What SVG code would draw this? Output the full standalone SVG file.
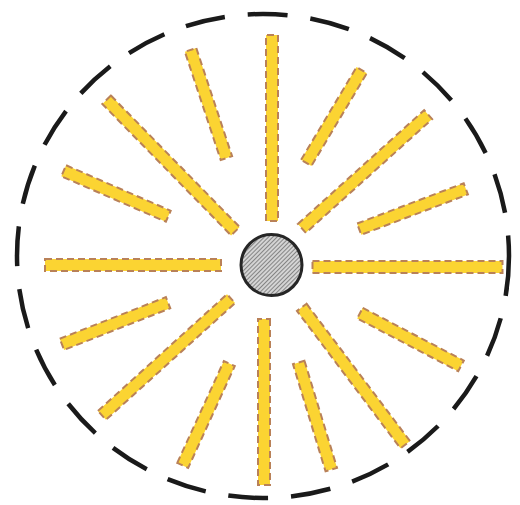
<svg xmlns="http://www.w3.org/2000/svg" width="520" height="505" viewBox="0 0 520 505">
<style>
.ray{fill:#fbd432;stroke:#b98158;stroke-width:2;stroke-dasharray:7 4}
.outer{fill:none;stroke:#1a1a1a;stroke-width:4.5;stroke-dasharray:40 23}
.core{fill:url(#hatch);stroke:#262626;stroke-width:3}
</style>
<defs>
<pattern id="hatch" patternUnits="userSpaceOnUse" width="3" height="3" patternTransform="rotate(45)">
<rect width="3" height="3" fill="#d4d4d4"/>
<line x1="0" y1="0" x2="0" y2="3" stroke="#5a5a5a" stroke-width="1.3"/>
</pattern>
</defs>
<rect width="520" height="505" fill="#ffffff"/>
<g id="boundary"><ellipse class="outer" cx="263" cy="256" rx="246" ry="242"/></g>
<g id="rays">
<rect class="ray" x="-93" y="-6" width="186" height="12" transform="translate(272,128) rotate(90)"/>
<rect class="ray" x="-57" y="-6" width="114" height="12" transform="translate(208.5,104) rotate(71.7)"/>
<rect class="ray" x="-92" y="-6" width="184" height="12" transform="translate(171,165.5) rotate(45.6)"/>
<rect class="ray" x="-57" y="-6" width="114" height="12" transform="translate(116,193.5) rotate(23.5)"/>
<rect class="ray" x="-88" y="-6" width="176" height="12" transform="translate(133,265) rotate(0)"/>
<rect class="ray" x="-57" y="-6" width="114" height="12" transform="translate(115,323.5) rotate(-21.4)"/>
<rect class="ray" x="-87" y="-6" width="174" height="12" transform="translate(166.5,357) rotate(-42.1)"/>
<rect class="ray" x="-56" y="-6" width="112" height="12" transform="translate(206,414.5) rotate(-65.4)"/>
<rect class="ray" x="-83" y="-6" width="166" height="12" transform="translate(264,402) rotate(90)"/>
<rect class="ray" x="-56" y="-6" width="112" height="12" transform="translate(315,416) rotate(73.1)"/>
<rect class="ray" x="-86" y="-6" width="172" height="12" transform="translate(353.5,376) rotate(53)"/>
<rect class="ray" x="-57" y="-6" width="114" height="12" transform="translate(410.5,339.5) rotate(27.6)"/>
<rect class="ray" x="-95" y="-6" width="190" height="12" transform="translate(407.5,267) rotate(0)"/>
<rect class="ray" x="-57" y="-6" width="114" height="12" transform="translate(412.5,209) rotate(-20.7)"/>
<rect class="ray" x="-85" y="-6" width="170" height="12" transform="translate(365,171.5) rotate(-42)"/>
<rect class="ray" x="-54" y="-6" width="108" height="12" transform="translate(334,116.5) rotate(-59.1)"/>
</g>
<g id="core"><circle class="core" cx="271.5" cy="265" r="30.5"/></g>
</svg>
